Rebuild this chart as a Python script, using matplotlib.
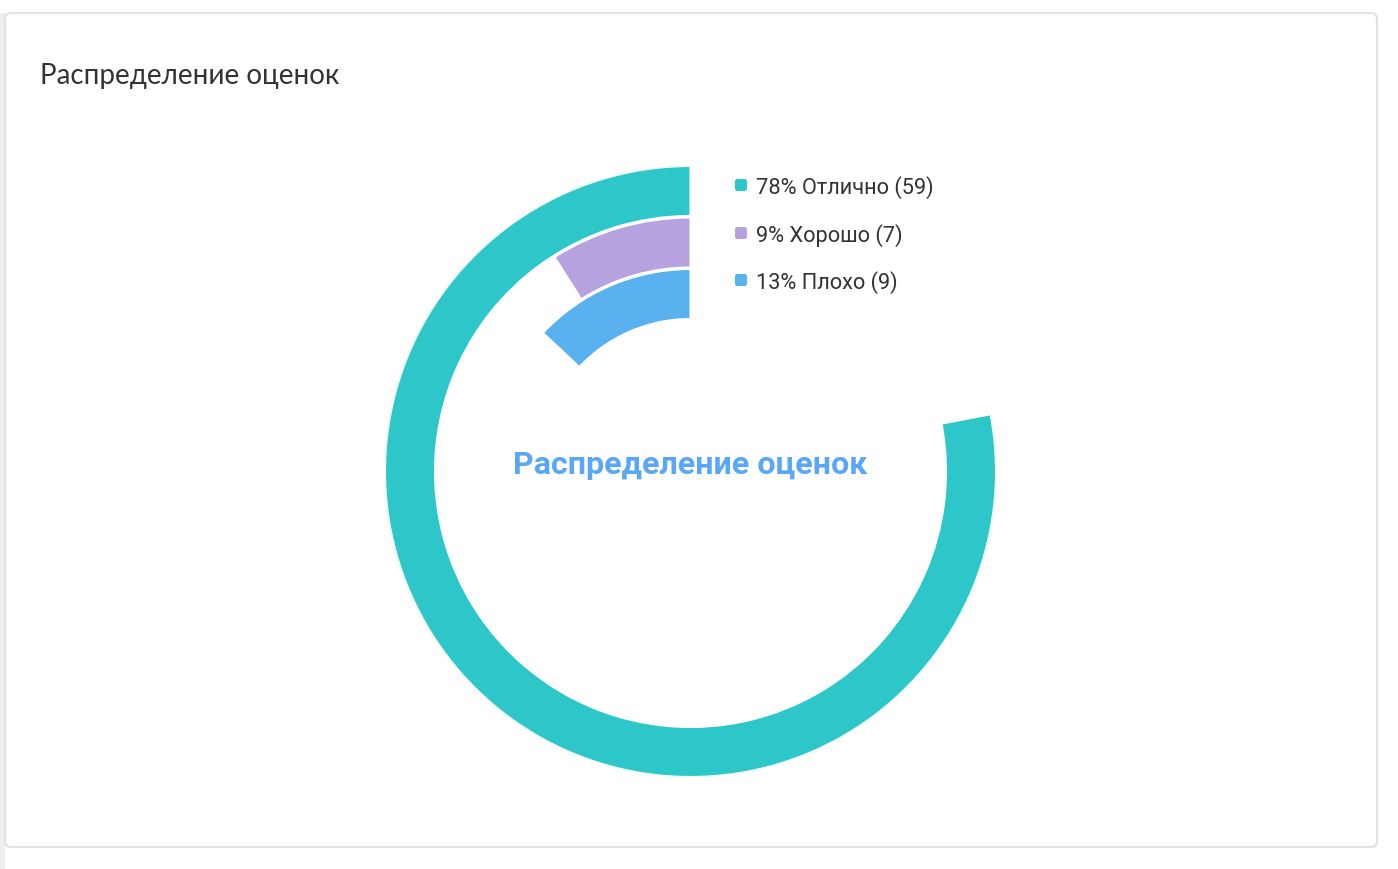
import numpy as np
import matplotlib.pyplot as plt
from matplotlib.patches import FancyBboxPatch, Rectangle

# data
labels = ['Отлично', 'Хорошо', 'Плохо']
pcts = [78, 9, 13]
counts = [59, 7, 9]
colors = ['#2ec7c9', '#b6a2de', '#5ab1ef']
title = 'Распределение оценок'

W, H = 1398, 870
fig = plt.figure(figsize=(W / 100, H / 100), dpi=100)
fig.patch.set_facecolor('white')

# background axes in pixel coords (y down)
bg = fig.add_axes([0, 0, 1, 1])
bg.set_xlim(0, W)
bg.set_ylim(H, 0)
bg.axis('off')

bg.add_patch(Rectangle((0, 14), 5, H - 14, color='#efefef', lw=0))
card = FancyBboxPatch((5, 14), 1372, 834, boxstyle='round,pad=0,rounding_size=6',
                      facecolor='white', edgecolor='#e2e2e2', lw=1.5)
bg.add_patch(card)

bg.text(40, 76, title, fontsize=20, color='#333333', family='Lato',
        va='center', ha='left')

# legend
leg_y = [186, 234, 281]
for lab, p, c, col, y in zip(labels, pcts, counts, colors, leg_y):
    bg.add_patch(FancyBboxPatch((735, y - 6), 12, 12, boxstyle='round,pad=0,rounding_size=2.5',
                                facecolor=col, edgecolor='none'))
    bg.text(756, y + 1.5, f'{p}% {lab} ({c})', fontsize=15.7, color='#333333',
            family='Roboto', va='center', ha='left')

# polar bars
cx, cy, R = 690.5, 472.5, 305.5
ax = fig.add_axes([(cx - R) / W, (H - cy - R) / H, 2 * R / W, 2 * R / H], projection='polar')
ax.set_theta_offset(np.pi / 2)
ax.set_theta_direction(1)
ax.set_ylim(0, R)
ax.axis('off')
ax.patch.set_alpha(0)

bar_w = 50
for i, (p, col) in enumerate(zip(pcts, colors)):
    outer = R - i * 51.5
    ax.bar(0, bar_w, width=2 * np.pi * p / 100, bottom=outer - bar_w, align='edge',
           color=col, edgecolor='white', linewidth=1.5)

fig.text(cx / W, 1 - 465 / H, title, fontsize=23.2, color='#5aa8f5', family='Roboto',
         weight='bold', ha='center', va='center')

fig.savefig('out.png', dpi=100)
